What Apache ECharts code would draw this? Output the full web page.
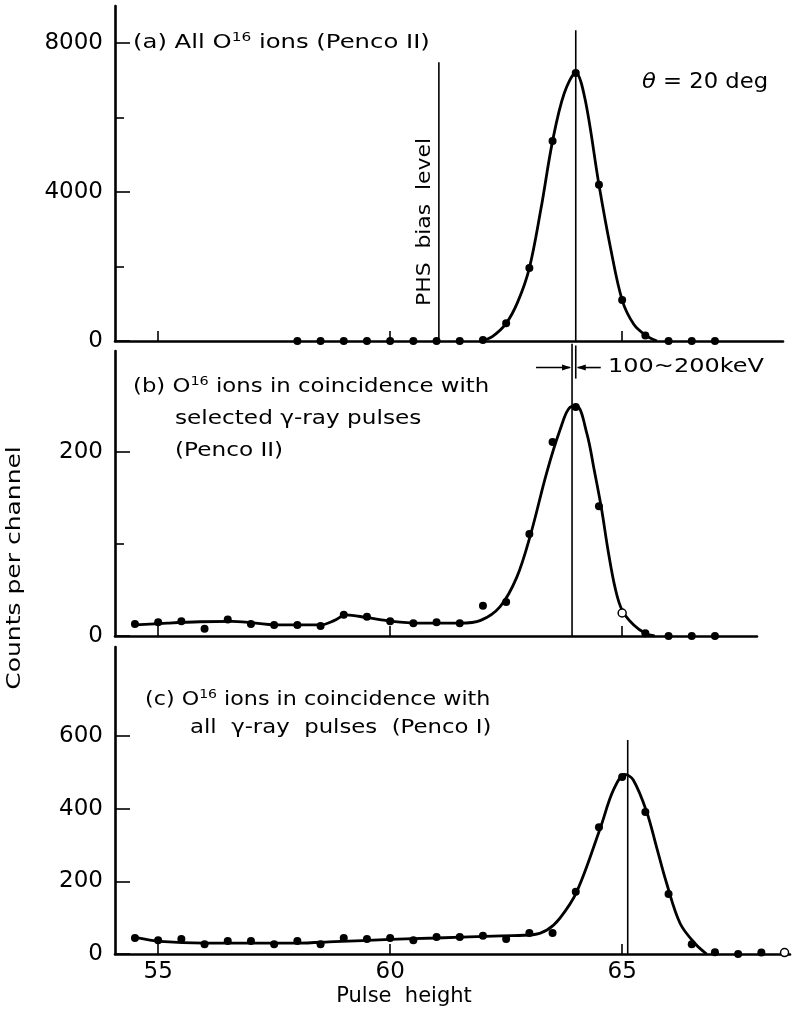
<!DOCTYPE html>
<html>
<head>
<meta charset="utf-8">
<script src="https://cdn.jsdelivr.net/npm/echarts@6/dist/echarts.min.js"></script>
<style>
  html, body { margin: 0; padding: 0; background: #fff; }
  #chart { width: 795px; height: 1016px; }
</style>
</head>
<body>
<div id="chart"></div>
<script>
// (a) all O16 ions, Penco II
const pulseA = [58, 58.5, 59, 59.5, 60, 60.5, 61, 61.5, 62, 62.5, 63, 63.5, 64, 64.5, 65, 65.5, 66, 66.5, 67];
const countsA = [0, 0, 0, 0, 0, 0, 0, 0, 30, 480, 1960, 5370, 7200, 4200, 1100, 150, 0, 0, 0];
const curveA = [[61.95, 0], [62.2, 120], [62.5, 475], [62.75, 1050], [63, 1960], [63.25, 3550], [63.5, 5370],
  [63.75, 6650], [64, 7200], [64.2, 6500], [64.5, 4200], [64.75, 2500], [65, 1100], [65.25, 450], [65.5, 160], [65.75, 0]];

// (b) coincidence with selected gamma-ray pulses, Penco II
const pulseB = [54.5, 55, 55.5, 56, 56.5, 57, 57.5, 58, 58.5, 59, 59.5, 60, 60.5, 61, 61.5, 62, 62.5, 63,
  63.5, 64, 64.5, 65, 65.5, 66, 66.5, 67];
const countsB = [13, 15, 16, 8, 18, 13, 12, 12, 11, 23, 21, 16, 14, 15, 14, 33, 37, 111, 211, 249, 141, 25, 3, 0, 0, 0];
const openB = [65];
const curveB = [[54.5, 12], [55.2, 14], [55.9, 15.5], [56.6, 16], [57.6, 12], [58.5, 12], [58.8, 17], [59.05, 23],
  [59.5, 20], [60.04, 16], [60.6, 14], [61.5, 14], [61.95, 17], [62.37, 32], [62.73, 64], [63.03, 111],
  [63.37, 177], [63.66, 224], [63.88, 249], [64.02, 250], [64.24, 220], [64.4, 180], [64.55, 140],
  [64.7, 92], [64.85, 52], [65, 28], [65.25, 12], [65.5, 3], [65.7, 0]];

// (c) coincidence with all gamma-ray pulses, Penco I
const pulseC = [54.5, 55, 55.5, 56, 56.5, 57, 57.5, 58, 58.5, 59, 59.5, 60, 60.5, 61, 61.5, 62, 62.5, 63,
  63.5, 64, 64.5, 65, 65.5, 66, 66.5, 67, 67.5, 68, 68.5];
const countsC = [44, 38, 41, 27, 36, 36, 27, 36, 27, 44, 41, 44, 38, 47, 47, 50, 41, 58, 58, 171, 349, 487,
  391, 165, 27, 5, 0, 4, 4];
const openC = [68.5];
const curveC = [[54.53, 45], [55.04, 35], [56, 30], [58, 30], [58.8, 34], [60, 40], [61, 44], [62.4, 50],
  [63.08, 53], [63.38, 66], [63.66, 99], [64.02, 171], [64.53, 347], [64.81, 451], [65.06, 494],
  [65.24, 479], [65.53, 391], [65.74, 295], [65.96, 194], [66.25, 84], [66.57, 29], [66.82, 0]];

// ticks
const xTicks = [55, 60, 65];
const yTicksA = [0, 4000, 8000];
const yMinorA = [2000, 6000];
const yTicksB = [0, 200];
const yMinorB = [100];
const yTicksC = [0, 200, 400, 600];

// reference lines
const phsBias = 61.05;
const peakA = 64.0;
const peakB = 63.92;
const peakC = 65.12;

const FONT = 'DejaVu Sans';
const X_MIN = 54.07;
const PX_PER_UNIT = 46.4;
const LEFT = 115;
const grids = [
  { top: 6, width: 668, height: 335, yMax: 9000 },
  { top: 351, width: 642, height: 285, yMax: 310 },
  { top: 647, width: 675, height: 307, yMax: 845 }
];
const majors = [yTicksA, yTicksB, yTicksC];
const minors = [yMinorA, yMinorB, []];

function points(pulse, counts, open) {
  return pulse.map((p, k) => open && open.includes(p)
    ? { value: [p, counts[k]], itemStyle: { color: '#fff', borderColor: '#000', borderWidth: 1.5 } }
    : [p, counts[k]]);
}

const chart = echarts.init(document.getElementById('chart'));

const xAxis = grids.map((g, i) => ({
  type: 'value', gridIndex: i,
  min: X_MIN, max: X_MIN + g.width / PX_PER_UNIT,
  axisLine: { show: true, onZero: false, lineStyle: { color: '#000', width: 2.6 } },
  axisTick: { show: true, inside: true, length: 10, customValues: xTicks, lineStyle: { color: '#000', width: 1.6 } },
  axisLabel: { show: i === 2, customValues: xTicks, fontSize: 23, color: '#000', margin: 7, fontFamily: FONT },
  splitLine: { show: false }
}));

const yAxis = [];
grids.forEach((g, i) => {
  yAxis.push({
    type: 'value', gridIndex: i, min: 0, max: g.yMax, position: 'left',
    axisLine: { show: true, onZero: false, lineStyle: { color: '#000', width: 2.6 } },
    axisTick: { show: true, inside: true, length: 15, customValues: majors[i], lineStyle: { color: '#000', width: 1.6 } },
    axisLabel: {
      customValues: majors[i], fontSize: 23, color: '#000', margin: 12, fontFamily: FONT,
      formatter: v => String(v)
    },
    splitLine: { show: false }
  });
  yAxis.push({
    type: 'value', gridIndex: i, min: 0, max: g.yMax, position: 'left',
    axisLine: { show: false },
    axisTick: { show: minors[i].length > 0, inside: true, length: 9, customValues: minors[i], lineStyle: { color: '#000', width: 1.6 } },
    axisLabel: { show: false },
    splitLine: { show: false }
  });
});

const curves = [curveA, curveB, curveC];
const dots = [points(pulseA, countsA), points(pulseB, countsB, openB), points(pulseC, countsC, openC)];
const series = [];
curves.forEach((c, i) => {
  series.push({
    type: 'line', xAxisIndex: i, yAxisIndex: i * 2, data: c,
    smooth: 0.35, showSymbol: false, z: 2,
    lineStyle: { color: '#000', width: 2.8 }
  });
  series.push({
    type: 'scatter', xAxisIndex: i, yAxisIndex: i * 2, data: dots[i],
    symbolSize: 8, z: 3, itemStyle: { color: '#000', opacity: 1 }
  });
});

chart.setOption({
  animation: false,
  backgroundColor: '#fff',
  textStyle: { fontFamily: FONT, color: '#000' },
  grid: grids.map(g => ({ left: LEFT, top: g.top, width: g.width, height: g.height })),
  xAxis: xAxis,
  yAxis: yAxis,
  series: series
});

function px(i, x, y) {
  return chart.convertToPixel({ gridIndex: i }, [x, y]);
}

function vline(i, x, y0, y1, w) {
  const a = px(i, x, y0), b = px(i, x, y1);
  return { type: 'line', shape: { x1: a[0], y1: a[1], x2: b[0], y2: b[1] }, style: { stroke: '#000', lineWidth: w || 1.6 } };
}

function label(x, y, text, size, align, extra) {
  return Object.assign({
    type: 'text', x: x, y: y, scaleX: 1.22,
    style: {
      text: text, fill: '#000', fontFamily: FONT, fontSize: size,
      align: align, verticalAlign: 'middle', lineHeight: size + 4,
      rich: {
        sup: { fontSize: 12, verticalAlign: 'top', lineHeight: 12, fontFamily: FONT, fill: '#000' },
        it: { fontStyle: 'italic', fontSize: size, fontFamily: FONT, fill: '#000' }
      }
    }
  }, extra || {});
}

// arrows around the width marker in panel b
const lb = px(1, peakB, 292);
const rb = px(1, peakA, 292);
const ay = lb[1];
const graphic = [
  vline(0, phsBias, 0, 7490),
  vline(0, peakA, 0, 8350),
  vline(1, peakB, 0, 318),
  vline(1, peakA, 280, 316),
  vline(2, peakC, 0, 589),
  { type: 'line', shape: { x1: lb[0] - 36, y1: ay, x2: lb[0] - 2, y2: ay }, style: { stroke: '#000', lineWidth: 1.6 } },
  { type: 'polygon', shape: { points: [[lb[0] - 1, ay], [lb[0] - 10, ay - 3], [lb[0] - 10, ay + 3]] }, style: { fill: '#000' } },
  { type: 'line', shape: { x1: rb[0] + 2, y1: ay, x2: rb[0] + 25, y2: ay }, style: { stroke: '#000', lineWidth: 1.6 } },
  { type: 'polygon', shape: { points: [[rb[0] + 1, ay], [rb[0] + 10, ay - 3], [rb[0] + 10, ay + 3]] }, style: { fill: '#000' } },

  label(133, 43, '(a) All O{sup|16} ions (Penco II)', 19, 'left', { scaleX: 1.28 }),
  label(642, 83, '{it|θ} = 20 deg', 21, 'left', { scaleX: 1.08 }),
  label(425, 222, 'PHS  bias  level', 19, 'center', { rotation: Math.PI / 2, scaleX: 1.15 }),
  label(608, 367, '100~200keV', 20, 'left', { scaleX: 1.2 }),
  label(133, 387, '(b) O{sup|16} ions in coincidence with', 19, 'left', { scaleX: 1.2 }),
  label(175, 419, 'selected γ-ray pulses', 19, 'left'),
  label(175, 451, '(Penco II)', 19, 'left'),
  label(145, 700, '(c) O{sup|16} ions in coincidence with', 19, 'left', { scaleX: 1.17 }),
  label(190, 728, 'all  γ-ray  pulses  (Penco I)', 19, 'left', { scaleX: 1.2 }),
  label(15, 568, 'Counts per channel', 20, 'center', { rotation: Math.PI / 2, scaleX: 1.25 }),
  label(404, 997, 'Pulse  height', 21, 'center', { scaleX: 1.0 })
];

chart.setOption({ graphic: graphic });
</script>
</body>
</html>
